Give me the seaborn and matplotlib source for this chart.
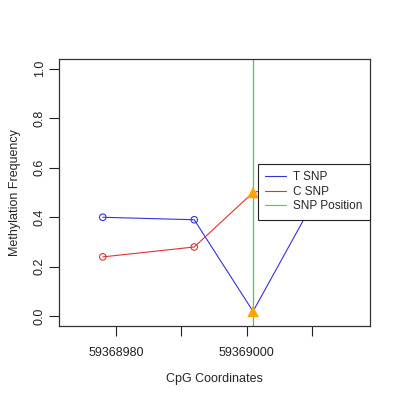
import matplotlib
matplotlib.use("Agg")
import matplotlib.pyplot as plt
from matplotlib.lines import Line2D
import seaborn as sns
import pandas as pd

# CpG positions and methylation frequencies
positions = [59368978, 59368992, 59369001, 59369010]
t_snp = [0.40, 0.39, 0.02, 0.45]
c_snp = [0.24, 0.28, 0.50, 0.55]
snp_position = 59369001
snp_index = 2

x_ticks = [59368980, 59368990, 59369000, 59369010]
x_tick_labels = ["59368980", "", "59369000", ""]
y_ticks = [0.0, 0.2, 0.4, 0.6, 0.8, 1.0]


def plot_methylation():
    sns.set_style("ticks")
    plt.rcParams["font.family"] = ["Liberation Sans", "DejaVu Sans"]
    plt.rcParams["font.size"] = 9

    fig = plt.figure(figsize=(4, 4), dpi=100)
    ax = fig.add_axes([0.1475, 0.185, 0.7775, 0.6675])

    df = pd.DataFrame({"pos": positions, "T SNP": t_snp, "C SNP": c_snp})
    others = df.drop(index=snp_index)

    # SNP position line
    ax.axvline(snp_position, color="#33dd33", lw=0.9, zorder=1)

    for col, colour in [("T SNP", "#3333dd"), ("C SNP", "#dd3333")]:
        sns.lineplot(data=df, x="pos", y=col, color=colour, lw=0.8, ax=ax,
                     zorder=2)
        sns.scatterplot(data=others, x="pos", y=col, ax=ax, marker="o",
                        s=22, facecolor="none", edgecolor=colour,
                        linewidth=0.8, zorder=3)

    snp_df = df.iloc[[snp_index]].melt(id_vars="pos", value_name="freq")
    sns.scatterplot(data=snp_df, x="pos", y="freq", ax=ax, marker="^",
                    s=70, color="#ffa500", edgecolor="none", zorder=4)

    ax.set_xlim(59368971.3, 59369018.9)
    ax.set_ylim(-0.039, 1.039)
    ax.set_xticks(x_ticks)
    ax.set_xticklabels(x_tick_labels)
    ax.set_yticks(y_ticks)
    ax.set_yticklabels([f"{v:.1f}" for v in y_ticks], rotation=90, va="center")
    ax.tick_params(direction="out", length=7, width=0.8, colors="#222222",
                   pad=8)
    ax.tick_params(axis="y", pad=2.5)
    ax.set_xlabel("CpG Coordinates", labelpad=10)
    ax.set_ylabel("Methylation Frequency", labelpad=9)
    for sp in ax.spines.values():
        sp.set_visible(True)
        sp.set_color("#333333")
        sp.set_linewidth(0.9)

    handles = [
        Line2D([], [], color="#3333dd", lw=0.8),
        Line2D([], [], color="#dd3333", lw=0.8),
        Line2D([], [], color="#33dd33", lw=0.8),
    ]
    leg = ax.legend(handles, ["T SNP", "C SNP", "SNP Position"],
                    loc="upper right", bbox_to_anchor=(1.0, 0.6075),
                    borderaxespad=0, frameon=True, fancybox=False,
                    framealpha=1, edgecolor="#222222", handlelength=1.75,
                    handletextpad=0.65, labelspacing=0.22, borderpad=0.62,
                    fontsize=8.5)
    leg.get_frame().set_linewidth(0.8)
    leg.set_zorder(10)

    fig.savefig("out.png", dpi=100)


if __name__ == "__main__":
    plot_methylation()
